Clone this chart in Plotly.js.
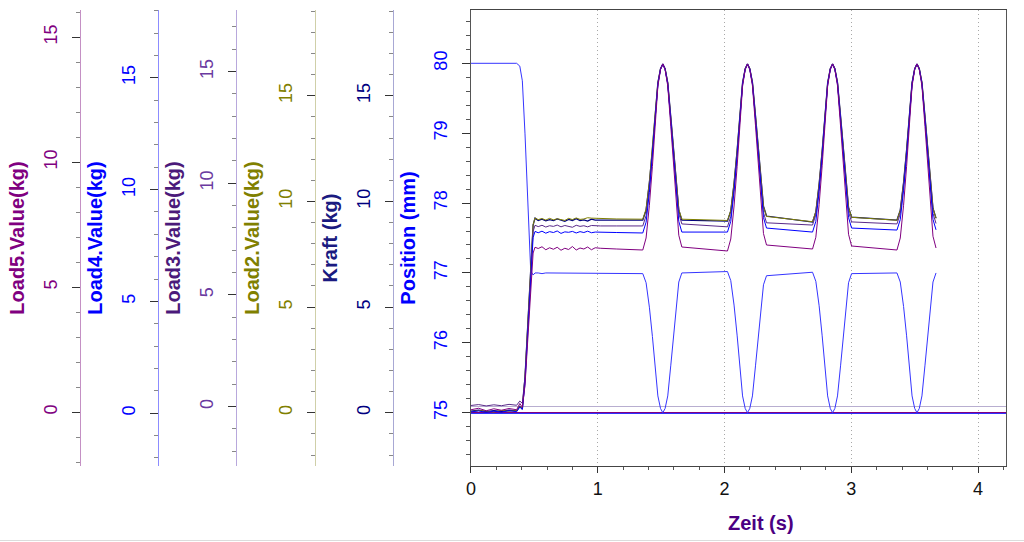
<!DOCTYPE html>
<html>
<head>
<meta charset="utf-8">
<script src="https://cdn.plot.ly/plotly-3.0.1.min.js"></script>
<style>html,body{margin:0;padding:0;background:#fff;}#chart{width:1024px;height:542px;}</style>
</head>
<body>
<div id="chart"></div>
<script>
// Time (s)
const time = [0, 0.06, 0.12, 0.18, 0.24, 0.30, 0.36, 0.385, 0.405, 0.426, 0.447, 0.471, 0.49, 0.505,
  0.53, 0.56, 0.59, 0.62, 0.65, 0.68, 0.71, 0.74, 0.77, 0.80, 0.83, 0.86, 0.89, 0.92, 0.95, 0.98, 1.02, 1.15, 1.355,
  1.381, 1.407, 1.431, 1.45, 1.474, 1.495, 1.513, 1.531, 1.552, 1.576, 1.597, 1.618, 1.639, 1.663,
  1.84,
  2.023, 2.049, 2.075, 2.099, 2.118, 2.142, 2.163, 2.181, 2.199, 2.220, 2.244, 2.265, 2.286, 2.307, 2.331,
  2.51,
  2.694, 2.72, 2.746, 2.77, 2.789, 2.813, 2.834, 2.852, 2.870, 2.891, 2.915, 2.936, 2.957, 2.978, 3.002,
  3.18,
  3.36, 3.386, 3.412, 3.436, 3.455, 3.479, 3.50, 3.518, 3.536, 3.557, 3.581, 3.602, 3.623, 3.644, 3.668];

// Kraft (kg)
const kraft = [0.08, 0.12, 0.05, 0.10, 0.06, 0.12, 0.09, 0.30, 0.18, 1.69, 4.06, 6.75, 8.88, 9.21,
  9.10, 9.16, 9.08, 9.14, 9.09, 9.17, 9.11, 9.06, 9.15, 9.10, 9.18, 9.09, 9.13, 9.07, 9.16, 9.12, 9.12, 9.12, 9.12,
  9.59, 10.89, 12.44, 13.99, 15.61, 16.28, 16.50, 16.28, 15.61, 13.99, 12.44, 10.89, 9.59, 9.12,
  9.10,
  9.07, 9.55, 10.85, 12.41, 13.97, 15.61, 16.28, 16.50, 16.28, 15.64, 14.06, 12.55, 11.04, 9.77, 9.31,
  9.17,
  9.02, 9.50, 10.82, 12.39, 13.96, 15.60, 16.28, 16.50, 16.28, 15.63, 14.04, 12.52, 11.00, 9.72, 9.26,
  9.19,
  9.12, 9.59, 10.89, 12.44, 13.99, 15.61, 16.28, 16.50, 16.28, 15.63, 14.02, 12.49, 10.96, 9.68, 9.21];

// Load2.Value (kg)
const load2 = [0.05, 0.10, 0.08, 0.04, 0.11, 0.07, 0.10, 0.30, 0.20, 1.70, 4.10, 6.80, 8.90, 9.22,
  9.14, 9.19, 9.12, 9.20, 9.13, 9.18, 9.15, 9.10, 9.20, 9.14, 9.22, 9.15, 9.17, 9.23, 9.21, 9.20, 9.18, 9.17, 9.16,
  9.63, 10.92, 12.46, 14.00, 15.62, 16.28, 16.50, 16.28, 15.62, 14.00, 12.46, 10.92, 9.63, 9.16,
  9.13,
  9.10, 9.57, 10.87, 12.42, 13.98, 15.61, 16.28, 16.50, 16.28, 15.64, 14.06, 12.55, 11.04, 9.76, 9.29,
  9.16,
  9.04, 9.52, 10.83, 12.40, 13.97, 15.60, 16.28, 16.50, 16.28, 15.63, 14.04, 12.52, 11.00, 9.72, 9.25,
  9.18,
  9.11, 9.58, 10.88, 12.44, 13.99, 15.61, 16.28, 16.50, 16.28, 15.63, 14.02, 12.49, 10.96, 9.68, 9.20];

// Load3.Value (kg)
const load3 = [0.05, 0.09, 0.03, 0.08, 0.04, 0.10, 0.06, 0.25, 0.15, 1.33, 3.48, 5.91, 7.85, 8.12,
  8.06, 8.12, 8.04, 8.10, 8.07, 8.13, 8.05, 8.11, 8.08, 8.03, 8.12, 8.07, 8.10, 8.05, 8.11, 8.09, 8.09, 8.09, 8.09,
  8.55, 9.83, 11.36, 12.88, 14.48, 15.13, 15.35, 15.13, 14.49, 12.91, 11.41, 9.90, 8.64, 8.18,
  8.12,
  8.05, 8.52, 9.80, 11.34, 12.87, 14.47, 15.13, 15.35, 15.14, 14.50, 12.93, 11.43, 9.94, 8.69, 8.23,
  8.18,
  8.13, 8.59, 9.86, 11.38, 12.90, 14.48, 15.13, 15.35, 15.14, 14.50, 12.94, 11.46, 9.97, 8.72, 8.27,
  8.22,
  8.18, 8.64, 9.90, 11.41, 12.91, 14.49, 15.13, 15.35, 15.14, 14.49, 12.92, 11.42, 9.92, 8.66, 8.20];

// Load4.Value (kg)
const load4 = [0.06, 0.10, 0.04, 0.09, 0.05, 0.11, 0.07, 0.28, 0.17, 1.34, 3.48, 5.91, 7.86, 8.13,
  8.07, 8.14, 8.05, 8.12, 8.08, 8.15, 8.04, 8.11, 8.09, 8.13, 8.06, 8.12, 8.08, 8.14, 8.07, 8.10, 8.09, 8.08, 8.06,
  8.54, 9.87, 11.46, 13.04, 14.70, 15.38, 15.61, 15.38, 14.71, 13.06, 11.48, 9.90, 8.58, 8.10,
  8.10,
  8.10, 8.58, 9.90, 11.48, 13.06, 14.71, 15.38, 15.61, 15.39, 14.73, 13.12, 11.58, 10.04, 8.75, 8.28,
  8.19,
  8.10, 8.58, 9.90, 11.48, 13.06, 14.71, 15.38, 15.61, 15.39, 14.73, 13.12, 11.58, 10.04, 8.75, 8.28,
  8.24,
  8.19, 8.66, 9.97, 11.53, 13.09, 14.72, 15.39, 15.61, 15.39, 14.72, 13.09, 11.53, 9.98, 8.67, 8.20];

// Load5.Value (kg)
const load5 = [0.10, 0.16, 0.06, 0.14, 0.08, 0.15, 0.10, 0.35, 0.20, 1.08, 2.83, 4.80, 6.37, 6.60,
  6.55, 6.62, 6.50, 6.58, 6.52, 6.60, 6.48, 6.56, 6.51, 6.63, 6.49, 6.57, 6.53, 6.61, 6.50, 6.58, 6.56, 6.53, 6.49,
  6.97, 8.28, 9.84, 11.40, 13.04, 13.71, 13.93, 13.71, 13.05, 11.44, 9.90, 8.37, 7.08, 6.61,
  6.53,
  6.45, 6.93, 8.25, 9.82, 11.39, 13.03, 13.71, 13.93, 13.71, 13.06, 11.47, 9.95, 8.43, 7.15, 6.69,
  6.61,
  6.53, 7.00, 8.31, 9.86, 11.41, 13.04, 13.71, 13.93, 13.71, 13.06, 11.45, 9.93, 8.40, 7.12, 6.65,
  6.57,
  6.49, 6.97, 8.28, 9.84, 11.40, 13.04, 13.71, 13.93, 13.71, 13.05, 11.43, 9.88, 8.34, 7.04, 6.57];

// Position (mm)
const position = [80, 80, 80, 80, 80, 80, 80, 79.96, 79.75, 78.99, 78.03, 77.03, 76.97, 77.0,
  77.0, 76.99, 77.0, 77.0, 77.0, 76.99, 77.0, 77.0, 77.0, 77.0, 77.0, 77.0, 77.0, 77.0, 77.0, 77.0, 77.0, 77.0, 76.99,
  76.86, 76.51, 76.09, 75.68, 75.24, 75.06, 75.0, 75.06, 75.24, 75.68, 76.10, 76.52, 76.87, 77.0,
  77.01,
  77.02, 76.89, 76.54, 76.11, 75.69, 75.24, 75.06, 75.0, 75.06, 75.24, 75.67, 76.08, 76.49, 76.83, 76.96,
  76.99,
  77.01, 76.88, 76.53, 76.10, 75.68, 75.24, 75.06, 75.0, 75.06, 75.24, 75.67, 76.09, 76.51, 76.86, 76.99,
  77.0,
  77.0, 76.87, 76.52, 76.10, 75.68, 75.24, 75.06, 75.0, 75.06, 75.24, 75.68, 76.10, 76.52, 76.87, 77.0];

const axisTitles = ['Position (mm)', 'Kraft (kg)', 'Load2.Value(kg)', 'Load3.Value(kg)', 'Load4.Value(kg)', 'Load5.Value(kg)'];
const xTitle = 'Zeit (s)';

const C = {
  pos: '#3535ff', kraft: '#000080', load2: '#808000', load3: '#5a2a8a', load4: '#0000ff', load5: '#800080'
};

const FONT = 'Liberation Sans, Arial, sans-serif';

function freeAxis(title, color, titleColor, lineColor, zeroColor, pos, range) {
  return {
    anchor: 'free', overlaying: 'y', side: 'left', position: pos,
    domain: [0, 1], range: range, autorange: false,
    showline: true, linecolor: lineColor, linewidth: 1,
    ticks: 'outside', ticklen: 8, tickcolor: '#333', tickwidth: 1,
    dtick: 5, tick0: 0,
    minor: {dtick: 1, ticks: 'outside', ticklen: 4, tickcolor: '#888', showgrid: false},
    tickangle: -90, ticklabelstandoff: 8,
    tickfont: {family: FONT, size: 18, color: color},
    showgrid: false,
    zeroline: true, zerolinecolor: zeroColor, zerolinewidth: 1,
    title: {text: '<b>' + title + '</b>', font: {family: FONT, size: 20, color: titleColor}, standoff: 9}
  };
}

const traces = [
  {x: time, y: load5, yaxis: 'y6', name: axisTitles[5], line: {color: C.load5, width: 1}},
  {x: time, y: load4, yaxis: 'y5', name: axisTitles[4], line: {color: C.load4, width: 1}},
  {x: time, y: load3, yaxis: 'y4', name: axisTitles[3], line: {color: C.load3, width: 1}},
  {x: time, y: load2, yaxis: 'y3', name: axisTitles[2], line: {color: C.load2, width: 1}},
  {x: time, y: kraft, yaxis: 'y2', name: axisTitles[1], line: {color: C.kraft, width: 1.3}},
  {x: time, y: position, yaxis: 'y', name: axisTitles[0], line: {color: C.pos, width: 1}}
].map(t => Object.assign({type: 'scatter', mode: 'lines', xaxis: 'x', hoverinfo: 'skip'}, t));

const xDomain = [0.46285, 1];
const xRange = [0, 4.22];

const layout = {
  width: 1024, height: 542,
  margin: {l: 10, r: 18, t: 10, b: 76},
  paper_bgcolor: '#fff', plot_bgcolor: '#fff',
  showlegend: false,
  font: {family: FONT},
  xaxis: {
    domain: xDomain, range: xRange, autorange: false, anchor: 'y',
    showline: true, linecolor: '#444', linewidth: 1, mirror: true,
    ticks: 'outside', ticklen: 6, tickcolor: '#333',
    dtick: 1, tick0: 0,
    minor: {dtick: 0.2, ticks: 'outside', ticklen: 3, tickcolor: '#555', showgrid: false},
    showgrid: true, gridcolor: '#a8a8a8', griddash: '1px,3px', gridwidth: 1,
    zeroline: false,
    tickfont: {family: FONT, size: 18, color: '#111'}
  },
  xaxis2: {
    overlaying: 'x', domain: xDomain, range: xRange, autorange: false, anchor: 'y', side: 'bottom',
    showline: true, linecolor: '#444', mirror: 'ticks',
    ticks: 'inside', ticklen: 7, tickcolor: '#333',
    dtick: 1, tick0: 0,
    minor: {dtick: 0.2, ticks: 'inside', ticklen: 3, tickcolor: '#555', showgrid: false},
    showticklabels: false, showgrid: false, zeroline: false
  },
  yaxis: {
    domain: [0, 1], anchor: 'x', range: [74.237, 80.763], autorange: false,
    showline: true, linecolor: '#555', mirror: true,
    ticks: 'outside', ticklen: 8, tickcolor: '#333',
    dtick: 1, tick0: 75,
    minor: {dtick: 0.2, ticks: 'outside', ticklen: 4, tickcolor: '#555', showgrid: false},
    tickangle: -90, ticklabelstandoff: 8,
    tickfont: {family: FONT, size: 18, color: '#0000ff'},
    showgrid: false, zeroline: false,
    title: {text: '<b>' + axisTitles[0] + '</b>', font: {family: FONT, size: 20, color: '#0000ff'}, standoff: 9}
  },
  yaxis2: freeAxis(axisTitles[1], C.kraft, '#1a1a80', '#a8a8d4', '#000080', 0.38454, [-2.52, 19.06]),
  yaxis3: freeAxis(axisTitles[2], C.load2, '#808000', '#cfcfa8', '#808000', 0.30622, [-2.52, 19.06]),
  yaxis4: freeAxis(axisTitles[3], '#6a3aa0', '#4b1a7a', '#b8a8dc', '#b8aed0', 0.2269, [-2.66, 17.76]),
  yaxis5: freeAxis(axisTitles[4], C.load4, '#0000ff', '#8c8cff', '#3030ff', 0.14859, [-2.36, 18.03]),
  yaxis6: freeAxis(axisTitles[5], C.load5, '#800080', '#c490c4', '#800080', 0.07028, [-2.15, 16.09]),
  annotations: [{
    text: '<b>' + xTitle + '</b>', xref: 'paper', yref: 'paper',
    x: (761 - 10) / 996, y: (466 - 523) / 456, xanchor: 'center', yanchor: 'middle',
    showarrow: false, font: {family: FONT, size: 20, color: '#4b0082'}
  }],
  shapes: [{
    type: 'line', xref: 'paper', yref: 'paper',
    x0: -0.02, x1: 1.03, y0: (466 - 540.5) / 456, y1: (466 - 540.5) / 456,
    line: {color: '#dcdcdc', width: 1}
  }]
};

Plotly.newPlot('chart', traces, layout, {displayModeBar: false, staticPlot: true});
</script>
</body>
</html>
